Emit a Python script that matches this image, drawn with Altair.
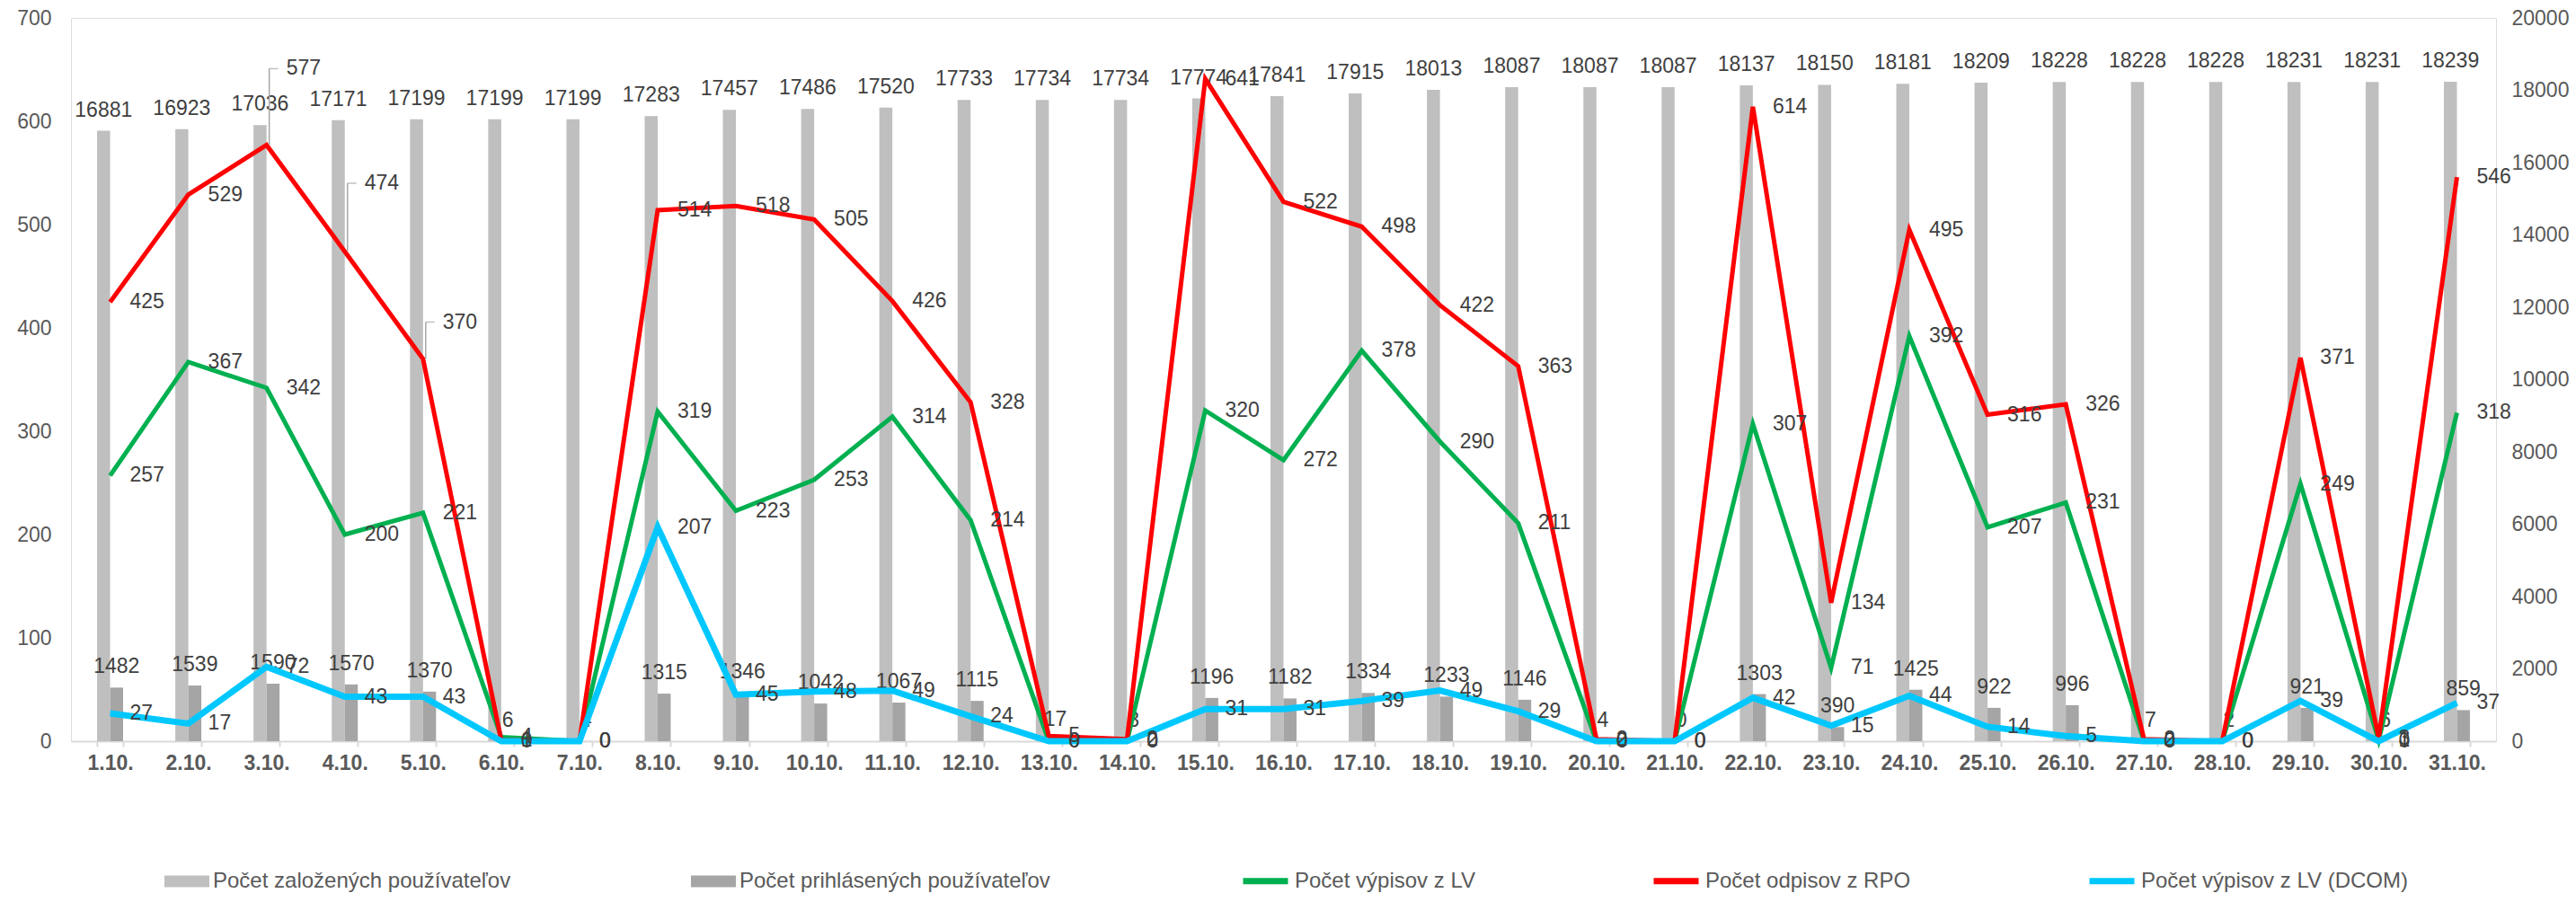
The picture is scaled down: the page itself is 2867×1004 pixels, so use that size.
import altair as alt
import pandas as pd

FONT = "Liberation Sans"

days = ["1.10.", "2.10.", "3.10.", "4.10.", "5.10.", "6.10.", "7.10.", "8.10.", "9.10.", "10.10.",
        "11.10.", "12.10.", "13.10.", "14.10.", "15.10.", "16.10.", "17.10.", "18.10.", "19.10.", "20.10.",
        "21.10.", "22.10.", "23.10.", "24.10.", "25.10.", "26.10.", "27.10.", "28.10.", "29.10.", "30.10.", "31.10."]

zalozeni = [16881, 16923, 17036, 17171, 17199, 17199, 17199, 17283, 17457, 17486,
            17520, 17733, 17734, 17734, 17774, 17841, 17915, 18013, 18087, 18087,
            18087, 18137, 18150, 18181, 18209, 18228, 18228, 18228, 18231, 18231, 18239]
prihlaseni = [1482, 1539, 1590, 1570, 1370, 6, 4, 1315, 1346, 1042,
              1067, 1115, 17, 3, 1196, 1182, 1334, 1233, 1146, 4,
              0, 1303, 390, 1425, 922, 996, 7, 2, 921, 6, 859]
vypisy_lv = [257, 367, 342, 200, 221, 4, 0, 319, 223, 253,
             314, 214, 0, 0, 320, 272, 378, 290, 211, 0,
             0, 307, 71, 392, 207, 231, 0, 0, 249, 1, 318]
odpisy_rpo = [425, 529, 577, 474, 370, 1, 0, 514, 518, 505,
              426, 328, 5, 2, 641, 522, 498, 422, 363, 2,
              0, 614, 134, 495, 316, 326, 2, 0, 371, 3, 546]
vypisy_dcom = [27, 17, 72, 43, 43, 0, 0, 207, 45, 48,
               49, 24, 0, 0, 31, 31, 39, 49, 29, 0,
               0, 42, 15, 44, 14, 5, 0, 0, 39, 0, 37]

bar_series = ["Počet založených používateľov", "Počet prihlásených používateľov"]
line_series = ["Počet výpisov z LV", "Počet odpisov z RPO", "Počet výpisov z LV (DCOM)"]
bar_colors = ["#BFBFBF", "#A5A5A5"]
line_colors = ["#00B050", "#FF0000", "#00C8FF"]
line_widths = [5, 5, 7]

# labels of the RPO series that were moved upward with a leader line (day, pixel shift)
moved_days = ["3.10.", "4.10.", "5.10."]
moved_shift = [-85, -76, -41]

bars_df = pd.DataFrame({
    "day": days * 2,
    "series": [bar_series[0]] * len(days) + [bar_series[1]] * len(days),
    "value": zalozeni + prihlaseni,
})
bars_df["label"] = bars_df["value"].astype(str)

lines_df = pd.DataFrame({
    "day": days * 3,
    "series": [line_series[0]] * len(days) + [line_series[1]] * len(days) + [line_series[2]] * len(days),
    "value": vypisy_lv + odpisy_rpo + vypisy_dcom,
})
lines_df["label"] = lines_df["value"].astype(str)

x_enc = alt.X(
    "day:N", sort=days,
    scale=alt.Scale(paddingInner=0.667, paddingOuter=0.3335),
    axis=alt.Axis(title=None, labelAngle=0, labelFontSize=23, labelFontWeight="bold",
                  labelColor="#595959", labelFont=FONT, domainColor="#D9D9D9", domainWidth=2,
                  tickColor="#D9D9D9", tickWidth=2, tickSize=6, tickBand="extent",
                  labelPadding=7, grid=False),
)

y_right = alt.Y(
    "value:Q", scale=alt.Scale(domain=[0, 20000], nice=False),
    axis=alt.Axis(orient="right", title=None, values=list(range(0, 20001, 2000)), format="d",
                  labelFontSize=23, labelColor="#595959", labelFont=FONT,
                  domain=False, ticks=False, grid=False, labelPadding=17),
)

y_left = alt.Y(
    "value:Q", scale=alt.Scale(domain=[0, 700], nice=False),
    axis=alt.Axis(orient="left", title=None, values=list(range(0, 701, 100)), format="d",
                  labelFontSize=23, labelColor="#595959", labelFont=FONT,
                  domain=False, ticks=False, grid=False, labelPadding=22),
)

x_off = alt.XOffset("series:N", sort=bar_series,
                    scale=alt.Scale(domain=bar_series, paddingInner=0, paddingOuter=0))

color_enc = alt.Color(
    "series:N",
    scale=alt.Scale(domain=bar_series, range=bar_colors),
    legend=alt.Legend(orient="none", legendX=104, legendY=936, direction="horizontal",
                      title=None, symbolType="M-1,-0.26H1V0.26H-1Z", symbolSize=2500,
                      symbolStrokeWidth=0, labelOffset=4, columnPadding=200,
                      labelFontSize=24, labelColor="#595959", labelFont=FONT,
                      labelLimit=600, padding=0),
)

stroke_enc = alt.Stroke(
    "series:N",
    scale=alt.Scale(domain=line_series, range=line_colors),
    legend=alt.Legend(orient="none", legendX=1301, legendY=932, direction="horizontal",
                      title=None, symbolType="stroke", symbolSize=2500,
                      symbolStrokeWidth=7, labelOffset=4, columnPadding=184,
                      labelFontSize=24, labelColor="#595959", labelFont=FONT,
                      labelLimit=600, padding=0),
)

bars = alt.Chart(bars_df).mark_bar().encode(
    x=x_enc, xOffset=x_off, y=y_right, color=color_enc
)
bar_text = alt.Chart(bars_df).mark_text(
    baseline="alphabetic", dy=-16, fontSize=23, color="#404040", font=FONT
).encode(x=x_enc, xOffset=x_off, y=y_right, text="label:N")

line_layers = []
for name, w in zip(line_series, line_widths):
    line_layers.append(
        alt.Chart(lines_df).transform_filter(alt.datum.series == name)
        .mark_line(strokeWidth=w)
        .encode(x=x_enc, y=y_left, stroke=stroke_enc)
    )

moved_list = "[" + ",".join("'" + d + "'" for d in moved_days) + "]"
is_moved = f"datum.series == '{line_series[1]}' && indexof({moved_list}, datum.day) >= 0"

line_text = alt.Chart(lines_df).transform_filter(f"!({is_moved})").mark_text(
    align="left", baseline="middle", dx=22, fontSize=23, color="#404040", font=FONT
).encode(x=x_enc, y=y_left, text="label:N")

moved_layers = []
for d, s in zip(moved_days, moved_shift):
    src = alt.Chart(lines_df).transform_filter(
        (alt.datum.series == line_series[1]) & (alt.datum.day == d)
    )
    moved_layers.append(
        src.mark_rule(color="#A6A6A6", strokeWidth=1.5, xOffset=3, x2Offset=3, y2Offset=s)
        .encode(x=x_enc, y=y_left, y2=alt.Y2("value:Q"))
    )
    moved_layers.append(
        src.mark_tick(color="#A6A6A6", orient="horizontal", size=10, thickness=1.5,
                      xOffset=8, yOffset=s)
        .encode(x=x_enc, y=y_left)
    )
    moved_layers.append(
        src.mark_text(align="left", baseline="middle", dx=22, dy=s, fontSize=23,
                      color="#404040", font=FONT)
        .encode(x=x_enc, y=y_left, text="label:N")
    )

chart = alt.layer(
    alt.layer(bars, bar_text),
    alt.layer(*line_layers, line_text, *moved_layers),
).resolve_scale(y="independent").properties(
    width=2699, height=805,
    autosize=alt.AutoSizeParams(type="none"),
    padding={"left": 71, "top": 12, "right": 81, "bottom": 171},
).configure_view(stroke=None).configure(font=FONT)

chart.save("out.html", embed_options={"renderer": "svg", "actions": False})
